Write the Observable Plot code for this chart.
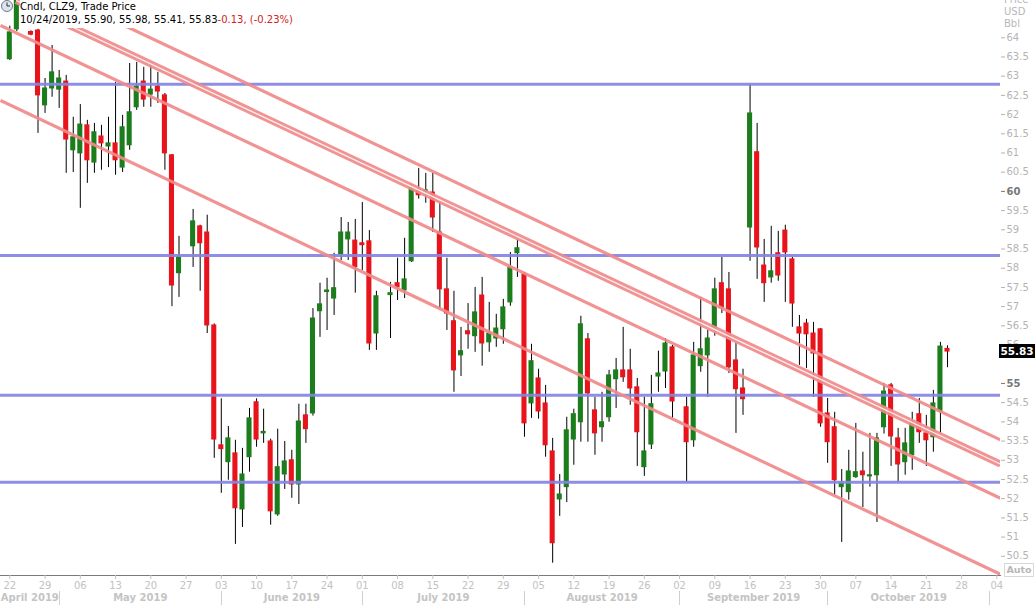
<!DOCTYPE html>
<html><head><meta charset="utf-8">
<script src="https://cdn.jsdelivr.net/npm/d3@7"></script>
<script src="https://cdn.jsdelivr.net/npm/@observablehq/plot@0.6"></script>
<style>
html,body{margin:0;padding:0;background:#fff;}
#wrap{position:relative;width:1035px;height:605px;overflow:hidden;font-family:"DejaVu Sans",sans-serif;}
#hdr{position:absolute;left:20px;top:0;width:282px;height:27px;background:#fff;font-size:10px;line-height:12.5px;color:#000;white-space:nowrap;padding-top:1px;}
#clock{position:absolute;left:0;top:0;}
.neg{color:#d42020;}
#unit{position:absolute;left:1004px;top:-6px;font-size:10px;line-height:12px;color:#b8b8b8;}
#last{position:absolute;left:999px;width:36px;height:14px;background:#000;color:#fff;font-weight:bold;font-size:10.5px;line-height:14px;text-align:center;}
#auto{position:absolute;left:1004px;top:563px;width:28px;height:12px;border:1px solid #d8d8d8;color:#b8b8b8;font-size:9.5px;font-weight:bold;line-height:12px;text-align:center;background:#fff;}
</style></head><body><div id="wrap"></div>
<script>
// ---------- data ----------
const firstDay = "2019-04-22";
const lastDay = "2019-10-24";
const holidays = ["2019-05-27", "2019-07-04", "2019-09-02"];

const open = [
  63.44, 64.22, 65.15, 64.15, 64.19,
  62.24, 62.68, 62.65, 62.86, 61.07,
  60.99, 61.72, 60.75, 61.43, 61.17,
  61.25, 60.62, 61.20, 62.19, 62.86,
  62.52, 62.73, 62.50, 60.94, 57.87,
  58.57, 59.09, 58.93, 56.51,
  53.39, 52.95, 53.18, 51.72, 53.08,
  54.51, 53.70, 53.49, 51.59, 52.63,
  53.00, 52.37, 54.17, 54.22, 56.88,
  57.38, 57.21, 58.36, 58.75, 58.72,
  58.65, 58.70, 56.30, 57.30,
  57.61, 57.42, 58.18, 60.05, 60.00,
  59.97, 58.93, 57.45, 56.62, 55.73,
  56.36, 56.23, 57.29, 56.07, 56.17,
  56.41, 57.11, 58.39, 57.84, 54.48,
  55.13, 54.48, 53.23, 51.98, 52.30,
  53.54, 53.99, 56.15, 54.30, 53.86,
  54.12, 55.11, 55.34, 55.34, 54.90,
  52.82, 53.41, 55.18, 55.31, 55.94,
  54.38, 53.52, 55.45, 55.73,
  56.46, 57.61, 57.45, 55.60, 54.87,
  59.06, 61.02, 58.07, 57.76, 58.39,
  58.98, 58.23, 56.46, 56.56, 56.30,
  56.41, 54.22, 53.86, 52.30, 52.17,
  52.56, 52.71, 52.58, 52.61, 53.86,
  54.95, 53.57, 52.95, 53.13, 54.20,
  53.70, 53.60, 54.27, 55.90
];
const high = [
  64.30, 65.20, 65.35, 64.18, 64.22,
  62.94, 63.80, 63.15, 63.02, 61.93,
  62.26, 61.85, 61.77, 61.72, 61.93,
  62.84, 61.98, 63.33, 63.36, 63.23,
  63.28, 63.10, 62.55, 60.96, 58.83,
  59.53, 59.12, 59.38, 56.55,
  54.60, 53.88, 53.52, 53.31, 54.35,
  54.60, 54.33, 53.55, 53.81, 53.49,
  53.26, 54.46, 54.46, 56.95, 57.61,
  57.74, 58.39, 59.32, 59.19, 59.27,
  59.71, 58.98, 57.40, 57.63,
  58.26, 58.78, 60.16, 60.60, 60.47,
  60.47, 59.71, 58.26, 57.40, 56.46,
  57.08, 57.50, 57.76, 57.11, 56.80,
  57.19, 58.41, 58.75, 57.89, 56.02,
  55.37, 54.95, 53.57, 52.63, 54.12,
  54.33, 56.75, 56.30, 54.64, 54.77,
  55.34, 55.65, 56.46, 55.89, 55.13,
  54.64, 55.21, 55.84, 56.17, 55.99,
  54.64, 56.07, 57.24, 56.38,
  57.74, 58.28, 57.89, 56.04, 55.37,
  62.78, 61.77, 58.75, 59.09, 58.96,
  59.12, 58.28, 56.77, 56.67, 56.59,
  56.43, 54.61, 54.25, 52.76, 53.26,
  53.96, 53.21, 53.70, 53.70, 55.00,
  55.00, 53.83, 53.83, 54.25, 54.61,
  54.17, 54.82, 56.07, 55.98
];
const low = [
  63.41, 64.16, 64.62, 64.05, 61.51,
  62.03, 62.45, 62.16, 60.47, 60.49,
  59.56, 60.21, 60.47, 60.55, 60.62,
  60.42, 60.49, 61.07, 62.11, 62.19,
  62.19, 62.29, 60.55, 57.00, 57.24,
  58.02, 57.40, 56.30, 53.05,
  52.14, 52.48, 50.81, 51.25, 52.69,
  53.34, 53.44, 51.31, 51.54, 52.24,
  52.01, 51.85, 53.44, 54.15, 56.20,
  56.38, 56.77, 58.20, 58.20, 57.35,
  57.94, 55.86, 55.86, 56.17,
  57.16, 57.21, 58.15, 59.80, 59.69,
  58.93, 56.95, 56.38, 54.77, 55.18,
  55.89, 55.81, 55.45, 55.81, 55.94,
  56.02, 57.01, 57.76, 53.60, 54.09,
  54.07, 53.08, 50.32, 51.54, 51.90,
  52.87, 53.47, 53.47, 53.13, 53.47,
  53.99, 54.35, 55.03, 54.43, 52.84,
  52.58, 53.28, 54.77, 54.87, 54.09,
  52.43, 53.34, 55.29, 54.64,
  56.23, 56.82, 55.26, 53.70, 54.17,
  58.18, 57.71, 57.11, 57.61, 57.66,
  57.11, 56.46, 55.47, 55.39, 54.64,
  53.86, 52.92, 52.09, 50.86, 51.96,
  52.53, 51.77, 52.30, 51.38, 53.68,
  52.84, 52.43, 52.61, 52.74, 53.44,
  52.84, 53.21, 53.70, 55.41
];
const close = [
  64.14, 65.05, 64.80, 64.08, 62.50,
  62.68, 63.10, 62.94, 61.35, 61.41,
  61.74, 60.81, 61.54, 61.25, 61.25,
  60.81, 61.67, 62.06, 62.73, 62.39,
  62.65, 62.60, 60.99, 57.55, 58.28,
  59.22, 58.65, 56.51, 53.54,
  53.29, 53.57, 51.75, 52.63, 54.09,
  53.54, 53.74, 51.67, 52.82, 52.97,
  52.37, 54.01, 53.81, 56.69, 57.06,
  57.42, 57.48, 58.93, 58.93, 58.02,
  58.60, 56.04, 57.27, 57.35,
  57.50, 57.71, 60.08, 59.90, 60.03,
  59.32, 57.45, 56.82, 55.34, 55.84,
  56.28, 56.85, 56.04, 56.30, 56.43,
  56.98, 58.02, 58.52, 53.96, 55.58,
  54.27, 53.39, 50.84, 52.11, 53.78,
  54.20, 56.54, 54.74, 53.70, 53.99,
  55.21, 55.34, 55.16, 54.87, 53.73,
  53.23, 54.46, 55.26, 56.04, 54.53,
  53.47, 55.73, 55.89, 56.17,
  57.45, 56.96, 55.42, 54.85, 54.59,
  62.03, 58.54, 57.61, 57.92, 57.81,
  58.41, 57.08, 56.30, 56.28, 55.78,
  53.96, 53.47, 52.48, 52.40, 52.71,
  52.69, 52.61, 52.61, 53.57, 54.79,
  53.62, 52.89, 53.44, 53.96, 53.73,
  53.52, 54.48, 55.96, 55.83
];

// horizontal support / resistance levels (price)
const levels = [62.79, 58.33, 54.69, 52.43];
// sloping trend lines: start / end in (trading-day slot, price)
const trendName = ["low", "mid", "double", "top"];
const trendX1 = [-1.32, -1.32, 0.91, 8.75];
const trendY1 = [62.37, 64.32, 64.97, 64.97];
const trendX2 = [140.52, 140.52, 140.52, 140.52];
const trendY2 = [50.03, 52.01, 52.90, 53.53];

// axis ticks
const yTicks = [50.5, 51, 51.5, 52, 52.5, 53, 53.5, 54, 54.5, 56, 56.5, 57, 57.5, 58, 58.5, 59, 59.5, 60.5, 61, 61.5, 62, 62.5, 63, 63.5, 64];
const yBoldTicks = [55, 60];
const weekStarts = ["2019-04-22","2019-04-29","2019-05-06","2019-05-13","2019-05-20","2019-05-27","2019-06-03","2019-06-10","2019-06-17","2019-06-24","2019-07-01","2019-07-08","2019-07-15","2019-07-22","2019-07-29","2019-08-05","2019-08-12","2019-08-19","2019-08-26","2019-09-02","2019-09-09","2019-09-16","2019-09-23","2019-09-30","2019-10-07","2019-10-14","2019-10-21","2019-10-28","2019-11-04"];
const weekLabels = ["22","29","06","13","20","27","03","10","17","24","01","08","15","22","29","05","12","19","26","02","09","16","23","30","07","14","21","28","04"];
const monthStarts = ["2019-05-01","2019-06-03","2019-07-01","2019-08-01","2019-09-02","2019-10-01","2019-11-01"];
const monthLabels = ["April 2019","May 2019","June 2019","July 2019","August 2019","September 2019","October 2019"];

const xDomain = [-1.32, 140.52];
const yDomain = [50, 64.97];

// ---------- build ----------
const parse = d3.timeParse("%Y-%m-%d");
const fmt = d3.timeFormat("%Y-%m-%d");
const start = parse(firstDay);
const idxOf = d => { const n = d3.timeDay.count(start, d); return Math.floor(n / 7) * 5 + (n % 7); };
const hol = new Set(holidays);
const tradeDates = d3.timeDay.range(start, d3.timeDay.offset(parse(lastDay), 1))
  .filter(d => d.getDay() > 0 && d.getDay() < 6 && !hol.has(fmt(d)));
const candles = tradeDates.map((d, k) => ({date: d, i: idxOf(d), open: open[k], high: high[k], low: low[k], close: close[k]}));
const trends = trendName.map((n, k) => ({name: n, x1: trendX1[k], y1: trendY1[k], x2: trendX2[k], y2: trendY2[k]}));
const weekIdx = weekStarts.map(s => idxOf(parse(s)));
const weekMap = new Map(weekIdx.map((v, k) => [v, weekLabels[k]]));
const monthIdx = monthStarts.map(s => idxOf(parse(s)));
const monthBounds = [xDomain[0], ...monthIdx];
const monthMid = monthLabels.map((m, k) => (monthBounds[k] + monthBounds[k + 1]) / 2);
const monthMap = new Map(monthMid.map((v, k) => [v, monthLabels[k]]));

const green = "#1b7d1b", red = "#e8141c", pink = "#f08a8a", blue = "#8484e2";

const chart = Plot.plot({
  width: 1035, height: 605,
  marginTop: 0, marginRight: 35, marginBottom: 30, marginLeft: 0,
  x: {type: "linear", domain: xDomain, axis: null},
  y: {domain: yDomain, axis: null},
  style: {fontFamily: "DejaVu Sans, sans-serif", fontSize: "10px", background: "transparent"},
  marks: [
    Plot.ruleX(candles, {x: "i", y1: "low", y2: "high", stroke: "#000", strokeWidth: 1, clip: true}),
    Plot.rect(candles, {x1: d => d.i - 0.36, x2: d => d.i + 0.36, y1: "open", y2: "close",
      fill: d => d.close >= d.open ? green : red, insetTop: -0.5, insetBottom: -0.5, clip: true}),
    Plot.ruleY(levels, {stroke: blue, strokeWidth: 3, strokeOpacity: 0.92}),
    Plot.link(trends.filter(t => t.name !== "double"), {x1: "x1", y1: "y1", x2: "x2", y2: "y2", stroke: pink, strokeWidth: 3.2, strokeOpacity: 0.92, clip: true}),
    Plot.link(trends.filter(t => t.name === "double"), {x1: "x1", y1: "y1", x2: "x2", y2: "y2", stroke: pink, strokeWidth: 7, strokeOpacity: 0.92, clip: true}),
    Plot.link(trends.filter(t => t.name === "double"), {x1: "x1", y1: "y1", x2: "x2", y2: "y2", stroke: "#fff", strokeWidth: 1.3, strokeOpacity: 0.85, clip: true}),
    Plot.frame({anchor: "bottom", stroke: "#7a7a7a"}),
    Plot.axisY(yTicks, {anchor: "right", tickSize: 4, tickPadding: 2, color: "#b4b4b4", tickFormat: d => String(d)}),
    Plot.axisY(yBoldTicks, {anchor: "right", tickSize: 4, tickPadding: 2, color: "#777", fontWeight: "bold", tickFormat: d => String(d)}),
    Plot.axisX(weekIdx, {anchor: "bottom", tickSize: 4, tickPadding: 2, color: "#c2c2c2", tickFormat: d => weekMap.get(d)}),
    Plot.axisX(monthMid, {anchor: "bottom", tickSize: 0, tickPadding: 18, color: "#c4c4c4", fontWeight: "bold", tickFormat: d => monthMap.get(d)})
  ]
});

const wrap = document.getElementById("wrap");
wrap.appendChild(chart);

// month separators below the day labels
const xs = chart.scale("x"), ys = chart.scale("y");
const svg = d3.select(chart);
svg.append("g").selectAll("line").data(monthIdx).join("line")
  .attr("x1", d => Math.round(xs.apply(d)) + 0.5).attr("x2", d => Math.round(xs.apply(d)) + 0.5)
  .attr("y1", 591).attr("y2", 605).attr("stroke", "#cfcfcf");

// header
const hdr = document.createElement("div");
hdr.id = "hdr";
const lc = candles[candles.length - 1], pc = candles[candles.length - 2];
const chg = lc.close - pc.close;
hdr.innerHTML = `Cndl, CLZ9, Trade Price<br>${d3.timeFormat("%m/%d/%Y")(lc.date)}, ${lc.open.toFixed(2)}, ${lc.high.toFixed(2)}, ${lc.low.toFixed(2)}, ${lc.close.toFixed(2)}<span class="neg">${chg.toFixed(2)}, (${(chg / pc.close * 100).toFixed(2)}%)</span>`;
wrap.appendChild(hdr);
const clock = document.createElementNS("http://www.w3.org/2000/svg", "svg");
clock.id = "clock"; clock.setAttribute("width", 14); clock.setAttribute("height", 14);
clock.innerHTML = '<circle cx="7" cy="6" r="5.5" fill="#dde4ee" stroke="#6a7a90"/><path d="M7 2.5V6H10" stroke="#333" fill="none"/>';
wrap.appendChild(clock);

const unit = document.createElement("div");
unit.id = "unit"; unit.innerHTML = "Price<br>USD<br>Bbl";
wrap.appendChild(unit);

const last = document.createElement("div");
last.id = "last"; last.textContent = lc.close.toFixed(2);
last.style.top = (ys.apply(lc.close) - 7) + "px";
wrap.appendChild(last);

const auto = document.createElement("div");
auto.id = "auto"; auto.textContent = "Auto";
wrap.appendChild(auto);
</script></body></html>
